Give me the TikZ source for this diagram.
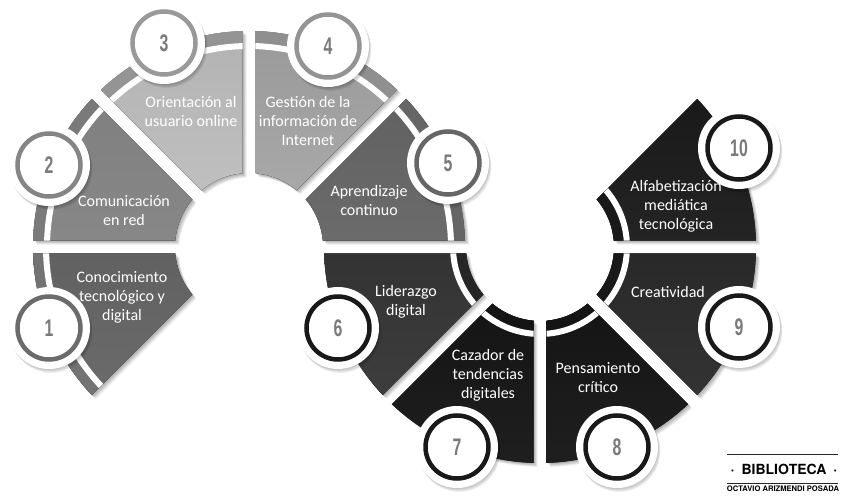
\documentclass[tikz,border=0pt]{standalone}
\usepackage{fontspec}
\setmainfont{Carlito}
\newfontfamily\numfont[FakeStretch=0.66]{Liberation Sans}
\newfontfamily\logofont{TeX Gyre Heros}
\usetikzlibrary{positioning}
\tikzset{
    petaltext/.style={text=white,align=center,inner sep=0pt,font=\fontsize{16}{19}\selectfont},
    numdisc/.style={circle,fill=white,minimum size=63pt,inner sep=0pt,line width=4.5pt,text=black!52,font=\numfont\bfseries\fontsize{24}{24}\selectfont},
    logoline/.style={line width=0.8pt,black!85}
}
% one ring sector, angles already moved in to leave the gap
\newcommand{\petalangles}[2]{
    \pgfmathsetmacro\aOut{#1+asin(6.5/216)}
    \pgfmathsetmacro\bOut{#2-asin(6.5/216)}
    \pgfmathsetmacro\aIn{#1+asin(6.5/74)}
    \pgfmathsetmacro\bIn{#2-asin(6.5/74)}
}
\newcommand{\petal}{(\aOut:216) arc[start angle=\aOut,end angle=\bOut,radius=216] -- (\bIn:74) arc[start angle=\bIn,end angle=\aIn,radius=74] -- cycle}
\begin{document}
\begin{tikzpicture}[x=1pt,y=1pt]
    \useasboundingbox (0,0) rectangle (844,496);
    % sectors: centre x / from / to / top grey / bottom grey / band grey / band radius / band width / white radius
    \foreach \cx/\from/\to/\tp/\bt/\bd/\rb/\wb/\rw in {
        249/180/225/62/58/55/208/17/203,
        249/135/180/50/47/52/208/17/202,
        249/90/135/30/25/42/208/17/201,
        249/45/90/40/34/44/208/17/201,
        249/0/45/62/58/60/208/17/202,
        540/180/225/80/76/85/82/16/87,
        540/225/270/92/88/92/82/16/87,
        540/270/315/92/88/92/82/16/87,
        540/315/360/84/80/90/82/16/87,
        540/0/45/90/86/90/82/16/87}{
        \begin{scope}[shift={(\cx,249)}]
            \petalangles{\from}{\to}
            \foreach \s in {1,...,5}
                \fill[black,opacity=.07,shift={(\s*.8,-\s*.8)}] \petal;
            \fill[top color=black!\tp,bottom color=black!\bt] \petal;
            \begin{scope}
                \clip \petal;
                \draw[line width=\wb pt,black!\bd] (0,0) circle[radius=\rb];
                \draw[line width=6pt,white] (0,0) circle[radius=\rw];
            \end{scope}
        \end{scope}
    }
    % number discs
    \foreach \n/\x/\y/\col in {
        1/49/168/58, 2/49/331/48, 3/164/453/40, 4/328/450/42, 5/448/333/60,
        6/338/168/90, 7/457/49/90, 8/617/49/90, 9/739/169/90, 10/739/348/90}{
        \foreach \s in {1,...,5}
            \fill[black,opacity=.05] (\x+\s*.5,\y-\s*.8) circle[radius=41];
        \fill[white] (\x,\y) circle[radius=41];
        \node[numdisc,draw=black!\col] (n\n) at (\x,\y) {\n};
    }
    % labels
    \node[petaltext] (t1) at (122,199) {Conocimiento\\tecnológico y\\digital};
    \node[petaltext] (t2) at (124,285) {Comunicación\\en red};
    \node[petaltext] (t3) at (191,384) {Orientación al\\usuario online};
    \node[petaltext] (t4) at (308,375) {Gestión de la\\información de\\Internet};
    \node[petaltext] (t5) at (369,295) {Aprendizaje\\continuo};
    \node[petaltext] (t6) at (406,194) {Liderazgo\\digital};
    \node[petaltext] (t7) at (488,121) {Cazador de\\tendencias\\digitales};
    \node[petaltext] (t8) at (598,118) {Pensamiento\\crítico};
    \node[petaltext] (t9) at (668,204) {Creatividad};
    \node[petaltext] (t10) at (676,290) {Alfabetización\\mediática\\tecnológica};
    % logo
    \coordinate (logoa) at (727,42);
    \coordinate (logob) at (838,42);
    \coordinate (logoc) at (727,13);
    \coordinate (logod) at (838,13);
    \draw[logoline] (logoa) -- (logob);
    \draw[logoline] (logoc) -- (logod);
    \node[font=\logofont\bfseries\fontsize{14}{14}\selectfont] (biblio) at (784,27) {·\hspace{7pt}BIBLIOTECA\hspace{7pt}·};
    \node[font=\logofont\bfseries\fontsize{7.6}{7.6}\selectfont,inner sep=0pt] (octavio) at (783,7.5) {OCTAVIO ARIZMENDI POSADA};
\end{tikzpicture}
\end{document}
